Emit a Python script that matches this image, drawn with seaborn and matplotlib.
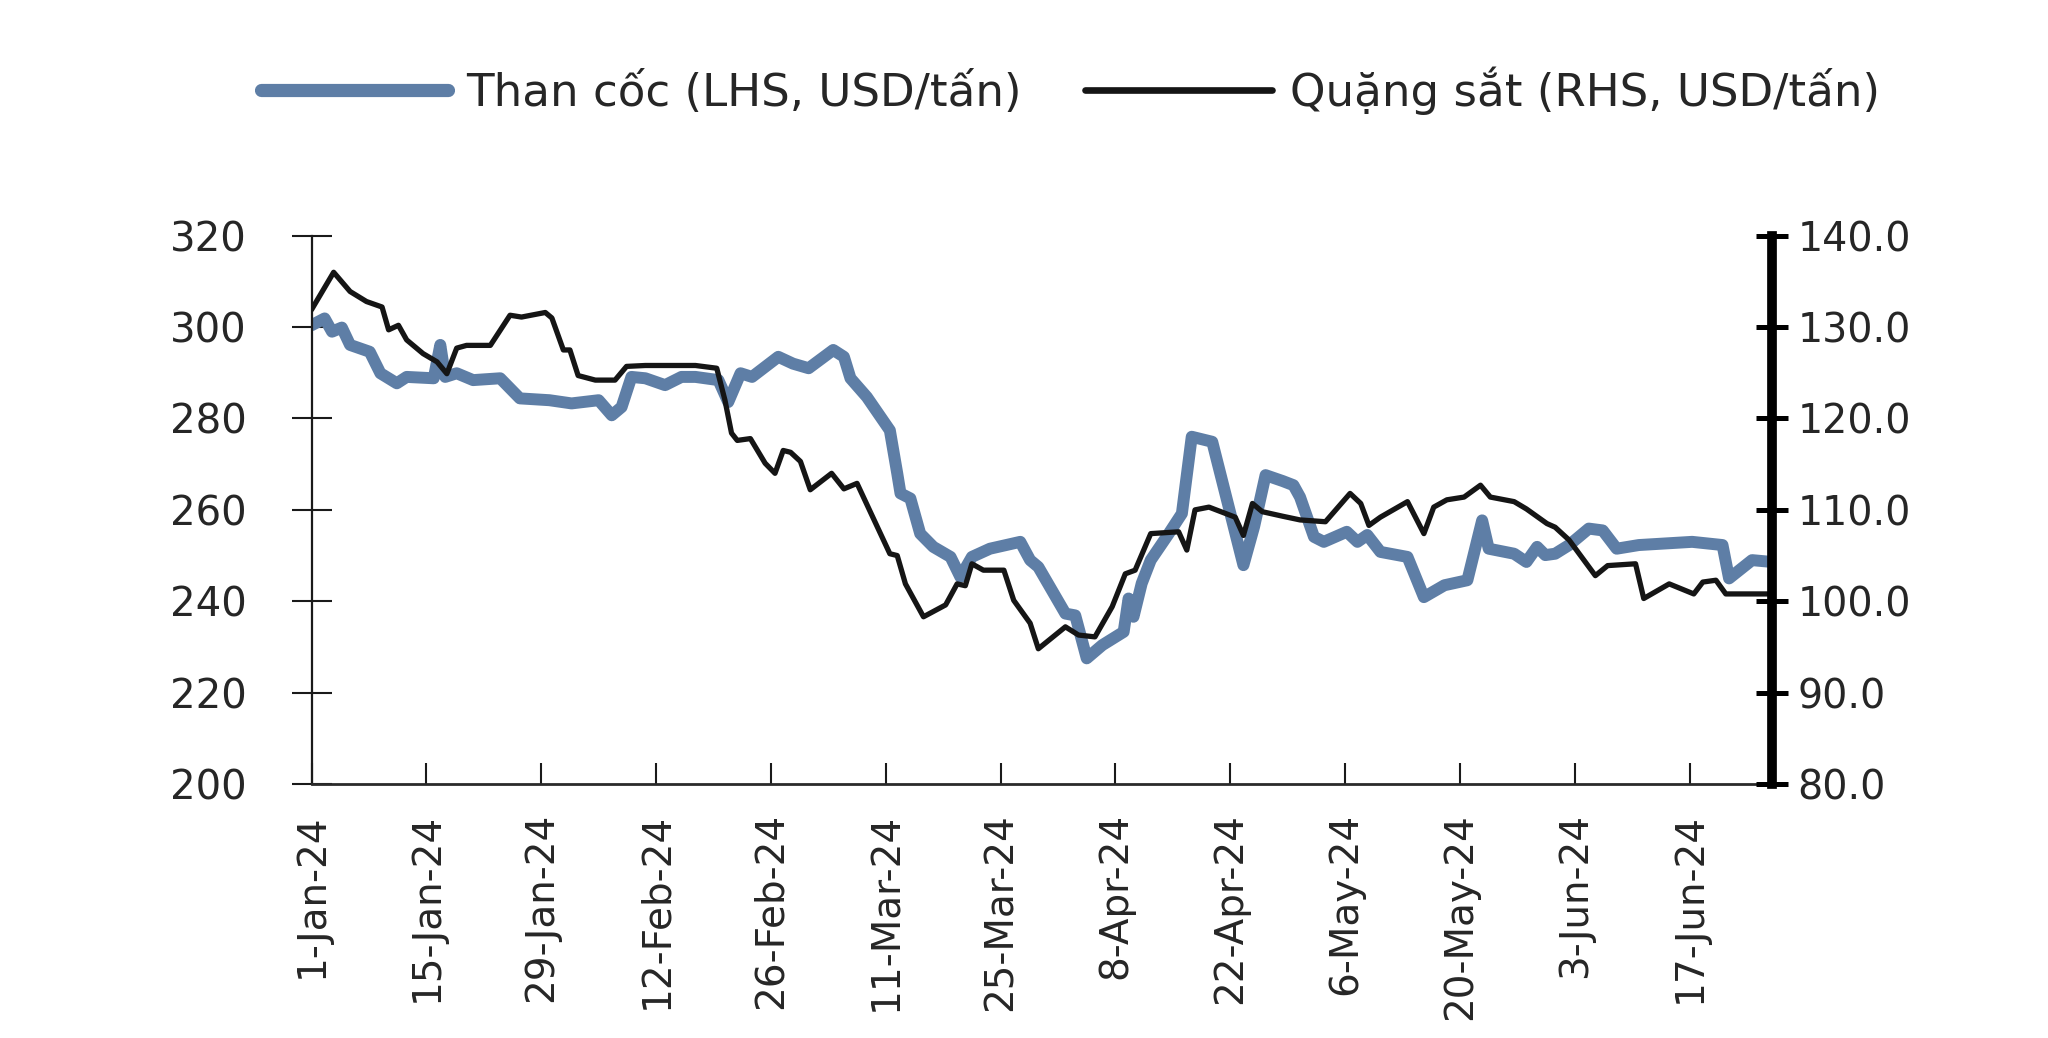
import matplotlib
matplotlib.use("Agg")
import matplotlib.pyplot as plt
from matplotlib.lines import Line2D
import seaborn as sns
import pandas as pd
import numpy as np

# ---------------- data ----------------
start_date = "2024-01-01"
# Coking coal (LHS, USD/t): x = days since 1-Jan-24
coke_day = [0.0, 1.6, 2.5, 3.7, 4.7, 7.1, 8.4, 10.4, 11.6, 14.9, 15.7, 16.3, 17.7, 19.7,
            23.0, 25.4, 29.0, 31.7, 35.0, 36.6, 37.8, 39.0, 40.7, 43.1, 45.1, 46.8, 49.6,
            50.8, 52.3, 53.7, 56.9, 58.7, 60.6, 63.6, 64.9, 65.7, 67.7, 70.5, 71.4, 71.8,
            73.0, 74.2, 75.8, 77.9, 79.1, 80.5, 82.7, 86.4, 87.6, 88.6, 91.9, 93.1, 94.5,
            96.4, 99.0, 99.6, 100.2, 101.2, 102.3, 104.5, 106.1, 107.3, 109.8, 111.8,
            113.6, 114.9, 116.3, 118.4, 119.7, 120.5, 122.2, 123.4, 126.2, 127.5, 128.7,
            130.3, 133.6, 135.6, 138.1, 140.9, 142.7, 143.5, 146.6, 148.1, 149.4, 150.4,
            151.6, 153.3, 155.7, 157.4, 159.1, 161.8, 168.3, 172.0, 172.8, 175.6, 178.0]
coke_val = [300.4, 301.9, 299.0, 299.9, 296.1, 294.6, 289.9, 287.7, 289.1, 288.8, 296.1,
            289.1, 289.9, 288.4, 288.8, 284.4, 284.0, 283.3, 284.0, 280.7, 282.5, 289.1,
            288.8, 287.3, 289.1, 289.1, 288.4, 283.6, 289.9, 289.1, 293.5, 292.0, 291.0,
            295.0, 293.5, 288.8, 284.7, 277.4, 268.0, 263.6, 262.5, 254.8, 251.9, 249.7,
            245.3, 249.7, 251.5, 253.0, 249.0, 247.5, 237.3, 236.9, 227.5, 230.4, 233.3,
            240.6, 236.6, 243.9, 249.0, 254.8, 259.2, 276.0, 274.9, 260.7, 247.9, 256.3,
            267.6, 266.3, 265.4, 262.8, 254.1, 253.0, 255.2, 253.0, 254.5, 250.8, 249.7,
            240.9, 243.5, 244.6, 257.7, 251.5, 250.4, 248.6, 251.9, 250.1, 250.4, 252.3,
            255.9, 255.5, 251.5, 252.3, 253.0, 252.3, 245.0, 249.0, 248.6]

# Iron ore (RHS, USD/t): x = days since 1-Jan-24
iron_day = [0.0, 2.7, 4.7, 6.7, 8.6, 9.4, 10.6, 11.6, 13.6, 15.3, 16.5, 17.7, 18.9, 21.8,
            24.2, 25.6, 28.5, 29.3, 30.7, 31.5, 32.5, 34.6, 37.0, 38.4, 40.7, 46.8, 49.4,
            50.4, 51.2, 51.9, 53.5, 55.3, 56.5, 57.5, 58.4, 59.6, 60.8, 63.4, 64.9, 66.5,
            70.5, 71.4, 72.4, 74.6, 77.3, 78.7, 79.7, 80.5, 81.9, 84.4, 85.6, 87.6, 88.6,
            91.9, 93.5, 95.5, 97.6, 99.2, 100.4, 102.3, 105.7, 106.7, 107.7, 109.4, 112.6,
            113.6, 114.7, 115.9, 118.4, 120.5, 123.6, 126.6, 127.9, 128.9, 130.3, 133.6,
            135.6, 136.8, 138.4, 140.5, 142.5, 143.7, 146.6, 148.1, 150.6, 151.6, 153.3,
            156.5, 158.0, 161.4, 162.4, 165.5, 168.5, 169.6, 171.2, 172.4, 177.8]
iron_val = [131.9, 136.0, 133.9, 132.8, 132.2, 129.7, 130.2, 128.6, 127.1, 126.2, 124.9,
            127.7, 128.0, 128.0, 131.3, 131.1, 131.6, 131.0, 127.5, 127.5, 124.7, 124.2,
            124.2, 125.7, 125.8, 125.8, 125.5, 122.0, 118.4, 117.6, 117.8, 115.1, 114.0,
            116.5, 116.3, 115.3, 112.2, 114.0, 112.3, 112.9, 105.2, 105.0, 101.9, 98.3,
            99.6, 101.9, 101.7, 104.1, 103.4, 103.4, 100.1, 97.6, 94.8, 97.2, 96.3, 96.1,
            99.4, 103.0, 103.4, 107.4, 107.6, 105.6, 110.0, 110.3, 109.2, 107.2, 110.7,
            109.8, 109.3, 108.9, 108.7, 111.8, 110.7, 108.3, 109.2, 110.9, 107.4, 110.3,
            111.1, 111.4, 112.7, 111.4, 110.9, 110.1, 108.5, 108.1, 106.7, 102.8, 103.9,
            104.1, 100.3, 101.9, 100.8, 102.1, 102.3, 100.8, 100.8]

x_tick_dates = ["2024-01-01", "2024-01-15", "2024-01-29", "2024-02-12", "2024-02-26",
                "2024-03-11", "2024-03-25", "2024-04-08", "2024-04-22", "2024-05-06",
                "2024-05-20", "2024-06-03", "2024-06-17"]
x_tick_labels = ["1-Jan-24", "15-Jan-24", "29-Jan-24", "12-Feb-24", "26-Feb-24",
                 "11-Mar-24", "25-Mar-24", "8-Apr-24", "22-Apr-24", "6-May-24",
                 "20-May-24", "3-Jun-24", "17-Jun-24"]
x_end_date = "2024-06-27"
left_ticks = [200, 220, 240, 260, 280, 300, 320]
right_ticks = [80, 90, 100, 110, 120, 130, 140]
right_tick_labels = ["80.0", "90.0", "100.0", "110.0", "120.0", "130.0", "140.0"]
label_coke = "Than cốc (LHS, USD/tấn)"
label_iron = "Quặng sắt (RHS, USD/tấn)"

# ---------------- build frames ----------------
t0 = pd.Timestamp(start_date)
df_coke = pd.DataFrame({"date": t0 + pd.to_timedelta(coke_day, unit="D"), "value": coke_val})
df_iron = pd.DataFrame({"date": t0 + pd.to_timedelta(iron_day, unit="D"), "value": iron_val})

sns.set_style("white")
plt.rcParams["font.family"] = ["DejaVu Sans"]

BLUE = "#5E7EA6"
BLACK = "#151515"
TXT = "#262626"

fig = plt.figure(figsize=(20.48, 10.38), dpi=100)
ax = fig.add_axes([0.1521, 0.2447, 0.8651 - 0.1521, 0.5282])
ax2 = ax.twinx()

sns.lineplot(data=df_coke, x="date", y="value", ax=ax, color=BLUE, linewidth=8.6,
             estimator=None, sort=False, solid_capstyle="round", solid_joinstyle="round")
sns.lineplot(data=df_iron, x="date", y="value", ax=ax2, color=BLACK, linewidth=3.8,
             estimator=None, sort=False, solid_joinstyle="round")

ax.set_xlim(t0, pd.Timestamp(x_end_date))
ax.set_ylim(200, 320)
ax2.set_ylim(80, 140)

ax.set_yticks(left_ticks)
ax.set_yticklabels([str(v) for v in left_ticks])
ax2.set_yticks(right_ticks)
ax2.set_yticklabels(right_tick_labels)
ax.set_xticks(pd.to_datetime(x_tick_dates))
ax.set_xticklabels(x_tick_labels, rotation=90, ha="center", va="top")

for a in (ax, ax2):
    a.set_xlabel("")
    a.set_ylabel("")
    a.grid(False)
    a.set_facecolor("none")

ax.spines["top"].set_visible(False)
ax.spines["right"].set_visible(False)
ax.spines["left"].set_color("#1a1a1a")
ax.spines["left"].set_linewidth(1.6)
ax.spines["bottom"].set_color("#2a2a2a")
ax.spines["bottom"].set_linewidth(2.0)
for s in ("top", "left", "bottom"):
    ax2.spines[s].set_visible(False)
ax2.spines["right"].set_color("black")
ax2.spines["right"].set_linewidth(7)

ax.tick_params(axis="y", direction="inout", length=29.5, width=1.5, color="#1a1a1a",
               pad=32, labelsize=29, labelcolor=TXT, left=True)
ax.tick_params(axis="x", direction="in", length=15, width=1.5, color="#1a1a1a",
               pad=21, labelsize=28, labelcolor=TXT, bottom=True)
ax2.tick_params(axis="y", direction="inout", length=23, width=3.6, color="black",
                pad=7, labelsize=28.5, labelcolor=TXT, right=True)

h1 = Line2D([], [], color=BLUE, linewidth=9.5, solid_capstyle="round")
h2 = Line2D([], [], color=BLACK, linewidth=4.8, solid_capstyle="round")
fig.legend(handles=[h1, h2], labels=[label_coke, label_iron], ncol=2, loc="center left",
           bbox_to_anchor=(0.1274, 0.9123), frameon=False, fontsize=32.5,
           handlelength=4.15, handletextpad=0.4, columnspacing=1.4,
           borderpad=0, borderaxespad=0, labelcolor=TXT)

fig.savefig("out.png", dpi=100, facecolor="white")
